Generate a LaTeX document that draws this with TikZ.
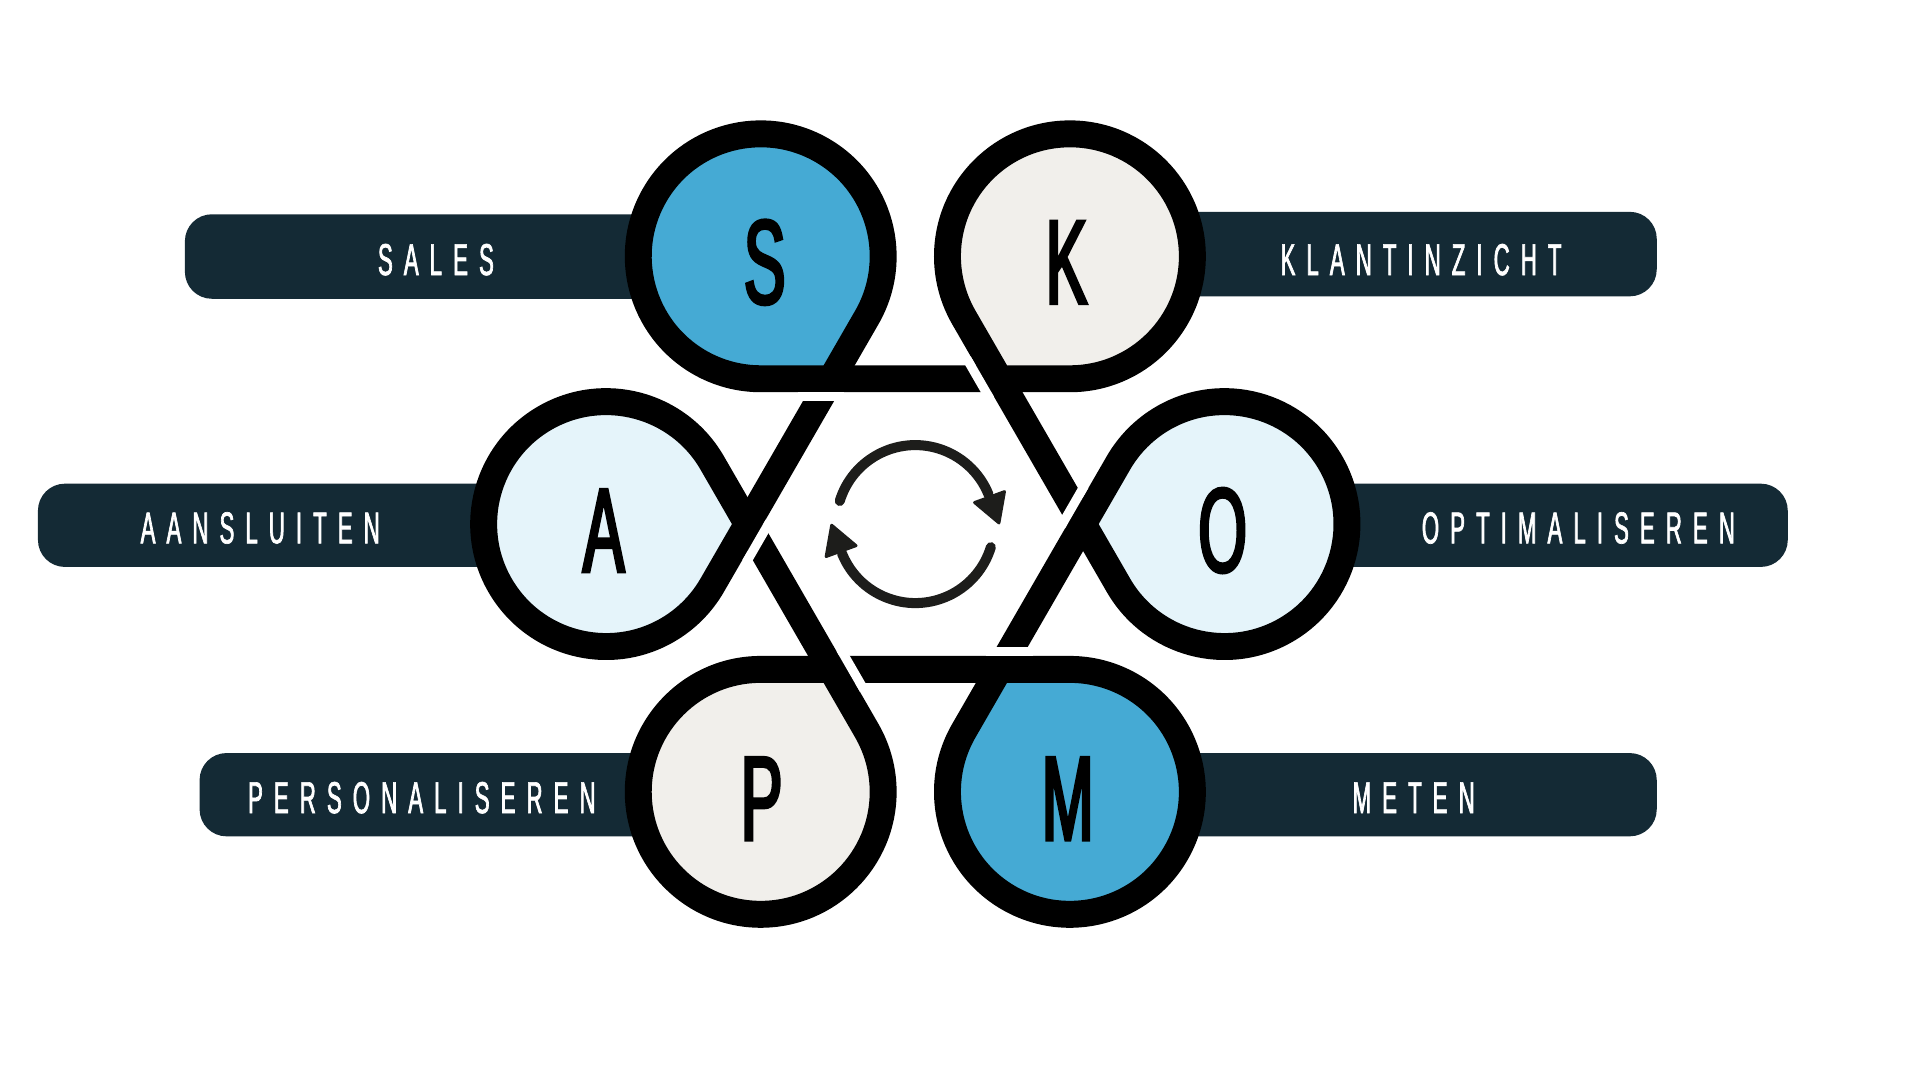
\documentclass[tikz,border=0pt]{standalone}
\usepackage{fontspec}
\newfontfamily\lblfont[FakeStretch=0.5,FakeBold=1.5]{Liberation Sans}
\newfontfamily\bigfont[FakeStretch=0.52,FakeBold=2.5]{Liberation Sans}
\usetikzlibrary{arrows.meta}
\definecolor{navy}{HTML}{142A35}
\definecolor{blueS}{HTML}{45AAD4}
\definecolor{beige}{HTML}{F1EFEB}
\definecolor{pale}{HTML}{E5F4FA}
\definecolor{arrowc}{HTML}{1D1D1B}
\newdimen\mylsgap \mylsgap=4.5pt
\def\mylsfirst#1{\ifx\relax#1\else#1\expandafter\mylsnext\fi}
\def\mylsnext#1{\ifx\relax#1\else\kern\mylsgap#1\expandafter\mylsnext\fi}
\newcommand\spacedtext[1]{\mylsfirst#1\relax}
\begin{document}
\begin{tikzpicture}[x=0.5pt,y=-0.5pt,
  pill/.style={fill=navy, rounded corners=11pt},
  lbl/.style={text=white, font=\lblfont\fontsize{18.2}{18.2}\selectfont, inner sep=0pt, anchor=base},
  ring/.style={draw=black, line width=11pt, line join=miter},
  band/.style={draw=black, line width=11pt, line cap=butt},
  gapfill/.style={fill=white},
  bigl/.style={font=\bigfont\fontsize{49}{49}\selectfont, inner sep=0pt, anchor=base},
  cyc/.style={draw=arrowc, line width=4.1pt, line cap=round},
  cychead/.style={fill=arrowc, draw=arrowc, line width=1.2pt, line join=round}
]
\useasboundingbox[fill=white] (0,0) rectangle (1568,882);
% pills
\path[pill] (151,175) rectangle (622,244);
\path[pill] (873,173) rectangle (1353,242);
\path[pill] (31,395) rectangle (495,463);
\path[pill] (1000,395) rectangle (1460,463);
\path[pill] (163,615) rectangle (622,683);
\path[pill] (873,615) rectangle (1353,683);
% labels
\node[lbl] (tS) at (356,224.6) {\spacedtext{SALES}};
\node[lbl] (tK) at (1160.5,224.6) {\spacedtext{KLANTINZICHT}};
\node[lbl] (tA) at (212.5,443.7) {\spacedtext{AANSLUITEN}};
\node[lbl] (tO) at (1289,443.7) {\spacedtext{OPTIMALISEREN}};
\node[lbl] (tP) at (344.5,664) {\spacedtext{PERSONALISEREN}};
\node[lbl] (tM) at (1154.5,664) {\spacedtext{METEN}};
% ribbon
\begin{scope}[shift={(747.5,428)}, x=0.5pt, y=0.5pt]
  \foreach \ang/\col in {0/pale,60/beige,120/blueS,180/pale,240/beige,300/blueS}{
    \begin{scope}[rotate=\ang]
      \fill[\col] (137.03,0) -- (165.91,-50) arc[start angle=210,end angle=510,radius=100] -- cycle;
    \end{scope}
  }
  \foreach \ang in {0,60,120,180,240,300}{
    \begin{scope}[rotate=\ang]
      \draw[ring] (137.03,0) -- (165.91,-50) arc[start angle=210,end angle=510,radius=100] -- cycle;
      \draw[band] (137.03,0) -- (-60:137.03);
    \end{scope}
  }
  \foreach \ang in {0,60,120,180,240,300}{
    \begin{scope}[rotate=\ang-30]
      \path[gapfill] (100.17,58) rectangle (107.67,96);
    \end{scope}
  }
  % cycle arrows
  \foreach \ang in {0,180}{
    \begin{scope}[rotate=\ang]
      \draw[cyc] (163:64.5) arc[start angle=163, end angle=22, radius=64.5];
      \begin{scope}[rotate=20]
        \path[cychead] (51.5,0) -- (77.5,0) -- (64.5,-22.5) -- cycle;
      \end{scope}
    \end{scope}
  }
\end{scope}
% big letters
\node[bigl] (lS) at (624.5,248) {S};
\node[bigl] (lK) at (871,248) {K};
\node[bigl] (lA) at (493,467) {A};
\node[bigl] (lO) at (998.5,467) {O};
\node[bigl] (lP) at (622,686) {P};
\node[bigl] (lM) at (872,686) {M};
\end{tikzpicture}
\end{document}
